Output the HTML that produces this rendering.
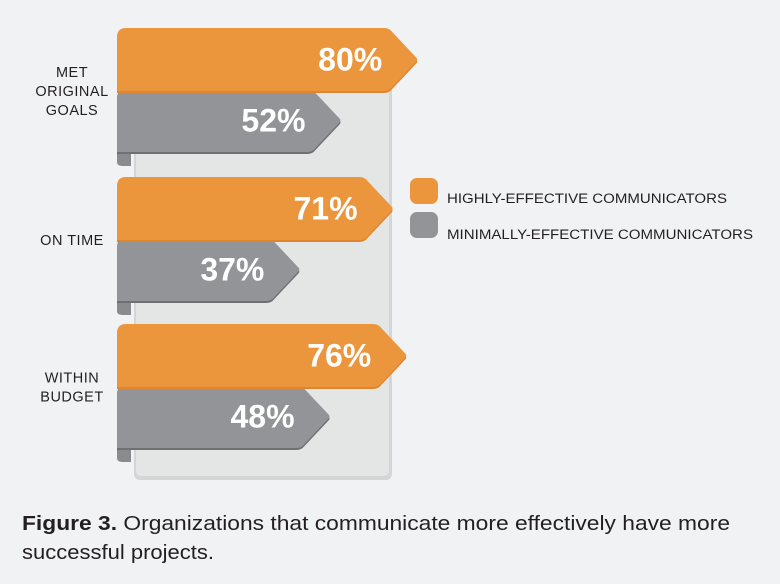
<!DOCTYPE html>
<html><head><meta charset="utf-8"><style>
html,body{margin:0;padding:0;background:#f1f2f4;}
svg{display:block;font-family:"Liberation Sans",sans-serif;}
</style></head><body>
<svg id="chart" width="780" height="584" viewBox="0 0 780 584">
<rect x="0" y="0" width="780" height="584" fill="#f1f2f4"/>
<rect x="134" y="30" width="258" height="450" rx="6" fill="#d4d5d6"/>
<rect x="136" y="30" width="253" height="446" rx="5" fill="#e4e5e5"/>
<g id="bars"></g>
<g>
<rect x="410" y="178" width="28" height="26" rx="7" fill="#eb963d"/>
<text x="447" y="203" font-size="13.5" fill="#231f20" textLength="280" lengthAdjust="spacingAndGlyphs">HIGHLY-EFFECTIVE COMMUNICATORS</text>
<rect x="410" y="212" width="28" height="26" rx="7" fill="#939497"/>
<text x="447" y="239" font-size="13.5" fill="#231f20" textLength="306" lengthAdjust="spacingAndGlyphs">MINIMALLY-EFFECTIVE COMMUNICATORS</text>
</g>
<text x="22" y="530" font-size="20" fill="#231f20" textLength="708" lengthAdjust="spacingAndGlyphs"><tspan font-weight="bold">Figure 3.</tspan> Organizations that communicate more effectively have more</text>
<text x="22" y="559" font-size="20" fill="#231f20" textLength="192" lengthAdjust="spacingAndGlyphs">successful projects.</text>
</svg>
<script>
const categories = [["MET","ORIGINAL","GOALS"],["ON TIME"],["WITHIN","BUDGET"]];
const highValues = [80,71,76];
const minValues = [52,37,48];
const NS="http://www.w3.org/2000/svg";
const g=document.getElementById('bars');
function xScale(v){return 199+2.74*v;}
const groupTop=[28,177,324];
const left=117, h=63, tipLen=30;
function mk(tag,attrs){const e=document.createElementNS(NS,tag);for(const k in attrs)e.setAttribute(k,attrs[k]);return e;}
function shape(x0,y,tip,r){
  return `M${x0} ${y+r} Q${x0} ${y} ${x0+r} ${y} L${tip-tipLen-4} ${y} Q${tip-tipLen+1} ${y} ${tip-tipLen+4} ${y+4} L${tip-2} ${y+h/2-2} Q${tip} ${y+h/2} ${tip-2} ${y+h/2+2} L${tip-tipLen+4} ${y+h-4} Q${tip-tipLen+1} ${y+h} ${tip-tipLen-4} ${y+h} L${x0} ${y+h} Z`;
}
function bar(y,v,fill,dark,name,curl){
  const tip=xScale(v), r=9, x0=left;
  if(curl){
    const c=mk('path',{d:`M${x0} ${y+h-6} L${x0} ${y+h+10} Q${x0} ${y+h+14} ${x0+6} ${y+h+14} L${x0+14} ${y+h+14} L${x0+14} ${y+h} Z`,fill:'#8a8b8e'});
    
    
    g.appendChild(c);
  }
  const sh=mk('path',{d:shape(x0,y,tip,r),fill:dark,transform:'translate(0,2)'});
  
  
  g.appendChild(sh);
  const p=mk('path',{d:shape(x0,y,tip,r),fill:fill});
  
  
  g.appendChild(p);
  const t=mk('text',{x:tip-36,y:y+h/2+11,'text-anchor':'end','font-size':32,'font-weight':'bold',fill:'#fff'});
  t.textContent=v+'%';
  
  
  g.appendChild(t);
}
categories.forEach((cat,i)=>{
  const y=groupTop[i];
  bar(y+h-2,minValues[i],'#939497','#6f7073','bar-minimal-'+(i+1),true);
  bar(y,highValues[i],'#eb963d','#e0852f','bar-high-'+(i+1),false);
  const cy=y+h;
  const n=cat.length;
  cat.forEach((line,j)=>{
    const t=mk('text',{x:72,y:cy-(n-1)*9.5+j*19+5,'text-anchor':'middle','font-size':14.5,'letter-spacing':'0.5',fill:'#231f20'});
    t.textContent=line;
    
    
    document.getElementById('chart').appendChild(t);
  });
});
</script>
</body></html>
